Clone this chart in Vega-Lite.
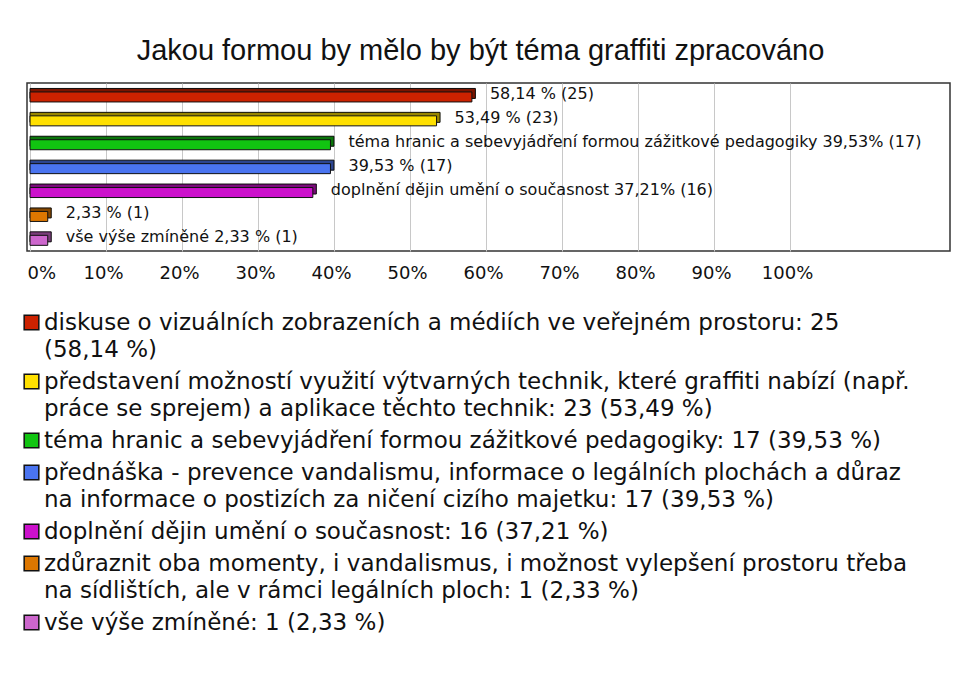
{
  "$schema": "https://vega.github.io/schema/vega-lite/v6.json",
  "width": 923,
  "height": 168,
  "autosize": {"type": "none"},
  "padding": {"left": 27, "top": 83, "right": 10, "bottom": 429},
  "background": "white",
  "title": {
    "text": "Jakou formou by mělo by být téma graffiti zpracováno",
    "font": "Liberation Sans",
    "fontSize": 29,
    "fontWeight": "normal",
    "color": "#111",
    "anchor": "middle",
    "frame": "group",
    "offset": 17,
    "dx": -8
  },
  "data": {
    "values": [
      {"cat": "diskuse o vizuálních zobrazeních a médiích ve veřejném prostoru: 25\n(58,14 %)", "pct": 58.14, "label": "58,14 % (25)"},
      {"cat": "představení možností využití výtvarných technik, které graffiti nabízí (např.\npráce se sprejem) a aplikace těchto technik: 23 (53,49 %)", "pct": 53.49, "label": "53,49 % (23)"},
      {"cat": "téma hranic a sebevyjádření formou zážitkové pedagogiky: 17 (39,53 %)", "pct": 39.53, "label": "téma hranic a sebevyjádření formou zážitkové pedagogiky 39,53% (17)"},
      {"cat": "přednáška - prevence vandalismu, informace o legálních plochách a důraz\nna informace o postizích za ničení cizího majetku: 17 (39,53 %)", "pct": 39.53, "label": "39,53 % (17)"},
      {"cat": "doplnění dějin umění o současnost: 16 (37,21 %)", "pct": 37.21, "label": "doplnění dějin umění o současnost 37,21% (16)"},
      {"cat": "zdůraznit oba momenty, i vandalismus, i možnost vylepšení prostoru třeba\nna sídlištích, ale v rámci legálních ploch: 1 (2,33 %)", "pct": 2.33, "label": "2,33 % (1)"},
      {"cat": "vše výše zmíněné: 1 (2,33 %)", "pct": 2.33, "label": "vše výše zmíněné 2,33 % (1)"}
    ]
  },
  "encoding": {
    "y": {
      "field": "cat",
      "type": "nominal",
      "sort": null,
      "axis": null,
      "scale": {"paddingInner": 0.5, "paddingOuter": 0.265, "align": 0.63}
    },
    "x": {
      "field": "pct",
      "type": "quantitative",
      "scale": {"domain": [-0.4, 121.05], "nice": false, "zero": false},
      "axis": {
        "values": [0, 10, 20, 30, 40, 50, 60, 70, 80, 90, 100],
        "labelExpr": "datum.value + '%'",
        "title": null,
        "grid": true,
        "gridColor": "#c8c8c8",
        "gridWidth": 1,
        "domain": false,
        "ticks": false,
        "labelFont": "DejaVu Sans",
        "labelFontSize": 18,
        "labelColor": "#111",
        "labelPadding": 13,
        "labelFlush": 5,
        "labelOffset": -3
      }
    },
    "x2": {"datum": 0}
  },
  "layer": [
    {
      "mark": {"type": "bar", "size": 10, "xOffset": 3.5, "yOffset": -3.5, "stroke": "#111", "strokeWidth": 1},
      "encoding": {
        "color": {
          "field": "cat",
          "type": "nominal",
          "sort": null,
          "scale": {"range": ["#cc2200", "#ffe000", "#11c411", "#4a74f0", "#cc11cc", "#dd7700", "#cc66cc"]},
          "legend": {
            "orient": "none",
            "legendX": -7,
            "legendY": 228,
            "direction": "vertical",
            "title": null,
            "symbolType": "square",
            "symbolSize": 215,
            "symbolStrokeColor": "#111",
            "symbolStrokeWidth": 1.5,
            "symbolOpacity": 1,
            "labelFont": "DejaVu Sans",
            "labelFontSize": 23,
            "labelColor": "#111",
            "labelLimit": 2000,
            "labelOffset": 1,
            "rowPadding": 8,
            "labelBaseline": "top",
            "labelExpr": "split(datum.label, '\\n')",
            "encode": {"labels": {"update": {"lineHeight": {"value": 27}, "dy": {"value": -11}}}}
          }
        }
      }
    },
    {
      "mark": {"type": "bar", "size": 10, "xOffset": 3.5, "yOffset": -3.5, "fill": "#000", "fillOpacity": 0.4}
    },
    {
      "mark": {"type": "bar", "size": 10, "stroke": "#111", "strokeWidth": 1},
      "encoding": {
        "color": {"field": "cat", "type": "nominal", "sort": null}
      }
    },
    {
      "mark": {"type": "text", "align": "left", "baseline": "middle", "dx": 18, "dy": -3, "font": "DejaVu Sans", "fontSize": 16, "color": "#111"},
      "encoding": {
        "text": {"field": "label"},
        "x2": null
      }
    }
  ],
  "config": {
    "view": {"stroke": "#333", "strokeWidth": 1.5},
    "bar": {"opacity": 1}
  }
}
